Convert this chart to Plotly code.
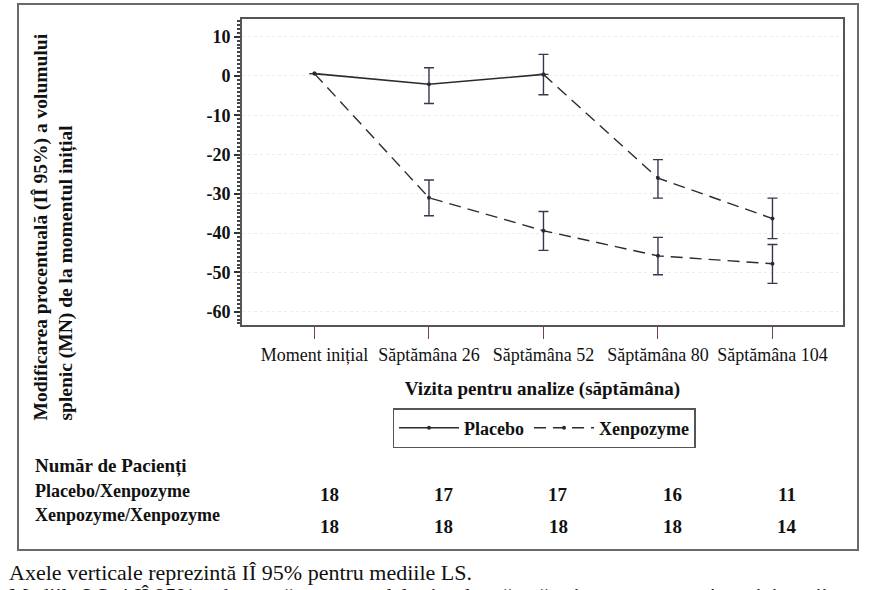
import plotly.graph_objects as go

# ---- data ----
visits = ["Moment inițial", "Săptămâna 26", "Săptămâna 52", "Săptămâna 80", "Săptămâna 104"]
visit_idx = [0, 1, 2, 3, 4]

# Placebo/Xenpozyme group: placebo phase (baseline..week 52), then Xenpozyme phase (week 52..104)
pbo_mean = [0.6, -2.1, 0.4, -26.0, -36.3]
pbo_lo = [None, -7.0, -4.8, -31.1, -41.4]
pbo_hi = [None, 2.1, 5.5, -21.3, -31.1]

# Xenpozyme/Xenpozyme group
xen_mean = [0.6, -31.0, -39.4, -45.8, -47.8]
xen_lo = [None, -35.6, -44.4, -50.6, -52.8]
xen_hi = [None, -26.5, -34.5, -41.1, -42.9]

n_pbo = [18, 17, 17, 16, 11]
n_xen = [18, 18, 18, 18, 14]

y_ticks = [10, 0, -10, -20, -30, -40, -50, -60]
y_ticktext = ["<b>%d</b>" % v for v in y_ticks]

FONT = "'Liberation Serif', 'Times New Roman', Tinos, 'DejaVu Serif', serif"
LINE = "#2b2b2b"
ERR = "#3a3550"


def err_plus(mean, hi):
    return [None if h is None else h - m for m, h in zip(mean, hi)]


def err_minus(mean, lo):
    return [None if l is None else m - l for m, l in zip(mean, lo)]


fig = go.Figure()

# Placebo phase (solid)
fig.add_trace(go.Scatter(
    x=visit_idx[0:3], y=pbo_mean[0:3], mode="lines+markers", name="<b>Placebo</b>",
    line=dict(color=LINE, width=1.6), marker=dict(size=4, color=LINE),
    error_y=dict(type="data", symmetric=False,
                 array=err_plus(pbo_mean, pbo_hi)[0:3],
                 arrayminus=err_minus(pbo_mean, pbo_lo)[0:3],
                 color=ERR, thickness=1.4, width=5),
))
# Placebo group after switch to Xenpozyme (dashed)
fig.add_trace(go.Scatter(
    x=visit_idx[2:5], y=pbo_mean[2:5], mode="lines+markers", name="<b>Xenpozyme</b>",
    line=dict(color=LINE, width=1.4, dash="12px,7px"), marker=dict(size=4, color=LINE),
    error_y=dict(type="data", symmetric=False,
                 array=[None] + err_plus(pbo_mean, pbo_hi)[3:5],
                 arrayminus=[None] + err_minus(pbo_mean, pbo_lo)[3:5],
                 color=ERR, thickness=1.4, width=5),
    showlegend=True,
))
# Xenpozyme/Xenpozyme group (dashed)
fig.add_trace(go.Scatter(
    x=visit_idx, y=xen_mean, mode="lines+markers", name="<b>Xenpozyme</b>",
    line=dict(color=LINE, width=1.4, dash="12px,7px"), marker=dict(size=4, color=LINE),
    error_y=dict(type="data", symmetric=False,
                 array=err_plus(xen_mean, xen_hi),
                 arrayminus=err_minus(xen_mean, xen_lo),
                 color=ERR, thickness=1.4, width=5),
    showlegend=False,
))

W, H = 873, 590
L, R, T, B = 242, 843, 19, 325
pw, ph = R - L, B - T


def px_x(p):
    return (p - L) / pw


def px_y(p):
    return (B - p) / ph


annotations = []

# y-axis title (two lines, bottom aligned)
annotations.append(dict(
    text="<b>Modificarea procentuală (IÎ 95%) a volumului<br>splenic (MN) de la momentul inițial</b>",
    xref="paper", yref="paper", x=px_x(53), y=px_y(423), xanchor="center", yanchor="bottom",
    textangle=-90, align="left", showarrow=False,
    font=dict(family=FONT, size=19.5, color="#111"),
))

# patient number table
annotations.append(dict(text="<b>Număr de Pacienți</b>", xref="paper", yref="paper",
                        x=px_x(33), y=px_y(466), xanchor="left", yanchor="middle",
                        showarrow=False, font=dict(family=FONT, size=19, color="#111")))
annotations.append(dict(text="<b>Placebo/Xenpozyme</b>", xref="paper", yref="paper",
                        x=px_x(33), y=px_y(491), xanchor="left", yanchor="middle",
                        showarrow=False, font=dict(family=FONT, size=18, color="#111")))
annotations.append(dict(text="<b>Xenpozyme/Xenpozyme</b>", xref="paper", yref="paper",
                        x=px_x(33), y=px_y(515), xanchor="left", yanchor="middle",
                        showarrow=False, font=dict(family=FONT, size=18, color="#111")))
for i, (a, b) in enumerate(zip(n_pbo, n_xen)):
    annotations.append(dict(text="<b>%d</b>" % a, xref="x", yref="paper", x=visit_idx[i], xshift=15,
                            y=px_y(494), yanchor="middle", showarrow=False,
                            font=dict(family=FONT, size=19, color="#111")))
    annotations.append(dict(text="<b>%d</b>" % b, xref="x", yref="paper", x=visit_idx[i], xshift=15,
                            y=px_y(526), yanchor="middle", showarrow=False,
                            font=dict(family=FONT, size=19, color="#111")))

# caption below the frame
annotations.append(dict(text="Axele verticale reprezintă IÎ 95% pentru mediile LS.",
                        xref="paper", yref="paper", x=px_x(7), y=px_y(572),
                        xanchor="left", yanchor="middle", showarrow=False,
                        font=dict(family=FONT, size=22, color="#111")))
annotations.append(dict(text="Mediile LS și IÎ 95% se bazează pe un model mixt de măsurători repetate cu toți participanții",
                        xref="paper", yref="paper", x=px_x(7), y=px_y(581),
                        xanchor="left", yanchor="top", showarrow=False,
                        font=dict(family=FONT, size=22, color="#111")))

shapes = [dict(type="rect", xref="paper", yref="paper",
               x0=px_x(18), x1=px_x(858), y0=px_y(550), y1=px_y(4),
               line=dict(color="#6a6a6a", width=2), fillcolor="rgba(0,0,0,0)")]

fig.update_layout(
    width=W, height=H,
    margin=dict(l=L, r=W - R, t=T, b=H - B, autoexpand=False),
    paper_bgcolor="white", plot_bgcolor="white",
    font=dict(family=FONT, color="#111"),
    showlegend=True,
    legend=dict(orientation="h", x=px_x(544), xanchor="center", y=px_y(408), yanchor="top",
                bordercolor="#555", borderwidth=1.5, bgcolor="white",
                font=dict(family=FONT, size=18, color="#111"),
                itemwidth=60, tracegroupgap=0),
    xaxis=dict(range=[-0.633, 4.616], tickvals=visit_idx, ticktext=visits,
               tickfont=dict(family=FONT, size=18, color="#111"),
               showgrid=False, zeroline=False,
               showline=True, linecolor="#555", linewidth=2, mirror=True,
               ticks="outside", ticklen=12, tickcolor="#744", tickwidth=1,
               title=dict(text="<b>Vizita pentru analize (săptămâna)</b>",
                          font=dict(family=FONT, size=19, color="#111"), standoff=18)),
    yaxis=dict(range=[-63.4, 14.5], tickvals=y_ticks, ticktext=y_ticktext,
               tickfont=dict(family=FONT, size=18, color="#111"),
               showgrid=True, gridcolor="#ececec", griddash="dot", gridwidth=1,
               zeroline=False,
               showline=True, linecolor="#555", linewidth=2, mirror=True,
               ticks="outside", ticklen=6, tickcolor="#333", tickwidth=1.5,
               minor=dict(dtick=1, ticks="outside", ticklen=3, tickcolor="#444", showgrid=False)),
    annotations=annotations,
    shapes=shapes,
)

fig.write_html("out.html")
